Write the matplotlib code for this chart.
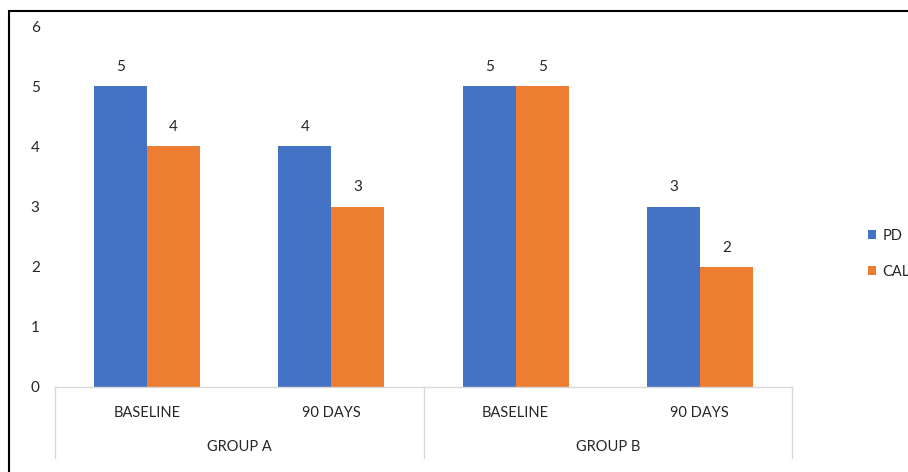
import matplotlib

matplotlib.use("Agg")
import matplotlib.pyplot as plt
import numpy as np
from matplotlib.patches import Rectangle

plt.rcParams["font.family"] = ["Lato", "DejaVu Sans"]

groups = ["GROUP A", "GROUP B"]
timepoints = ["BASELINE", "90 DAYS", "BASELINE", "90 DAYS"]
pd_values = [5, 4, 5, 3]
cal_values = [4, 3, 5, 2]
y_ticks = [0, 1, 2, 3, 4, 5, 6]

BLUE = "#4472C4"
ORANGE = "#ED7D31"
TEXT = "#262626"
AXIS = "#D9D9D9"

W, H = 908, 472
fig = plt.figure(figsize=(W / 100, H / 100), dpi=100)
ax = fig.add_axes([55 / W, (H - 387) / H, 737 / W, 361 / H])

x = np.arange(len(timepoints))
bw = 0.288
ax.bar(x - bw / 2, pd_values, bw, color=BLUE, label="PD")
ax.bar(x + bw / 2, cal_values, bw, color=ORANGE, label="CAL")

for xi, v in zip(x - bw / 2, pd_values):
    ax.text(xi, v + 0.2, str(v), ha="center", va="bottom", fontsize=11, color=TEXT)
for xi, v in zip(x + bw / 2, cal_values):
    ax.text(xi, v + 0.2, str(v), ha="center", va="bottom", fontsize=11, color=TEXT)

ax.set_xlim(-0.5, len(timepoints) - 0.5)
ax.set_ylim(0, 6)
ax.set_yticks(y_ticks)
ax.set_yticklabels([str(t) for t in y_ticks], fontsize=11, color=TEXT)
ax.tick_params(axis="y", length=0, pad=11)
ax.set_xticks([])
for side in ["top", "right", "left"]:
    ax.spines[side].set_visible(False)
ax.spines["bottom"].set_color(AXIS)
ax.spines["bottom"].set_linewidth(1)

# two-level category axis below the plot
depth = -(458 - 387) / 361
for xa in [0, 0.5, 1]:
    ax.plot([xa, xa], [0, depth], transform=ax.transAxes, color=AXIS, lw=1, clip_on=False)
lab_y = -(413 - 387) / 361
grp_y = -(447 - 387) / 361
for i, name in enumerate(timepoints):
    ax.text((i + 0.5) / len(timepoints), lab_y, name, transform=ax.transAxes,
            ha="center", va="center", fontsize=10.5, color=TEXT)
for i, name in enumerate(groups):
    ax.text((i + 0.5) / len(groups), grp_y, name, transform=ax.transAxes,
            ha="center", va="center", fontsize=10.5, color=TEXT)

leg = fig.legend(loc="upper left", bbox_to_anchor=(868 / W, 1 - 229 / H), frameon=False,
                 fontsize=10.5, handlelength=0.58, handleheight=0.58, handletextpad=0.4,
                 labelspacing=1.5, borderpad=0, borderaxespad=0, labelcolor=TEXT)

# outer frame
fig.add_artist(Rectangle((9 / W, -0.05), 1.0, 1 - 11 / H + 0.05, transform=fig.transFigure,
                         fill=False, edgecolor="black", lw=1.5))

fig.savefig("out.png", dpi=100)
